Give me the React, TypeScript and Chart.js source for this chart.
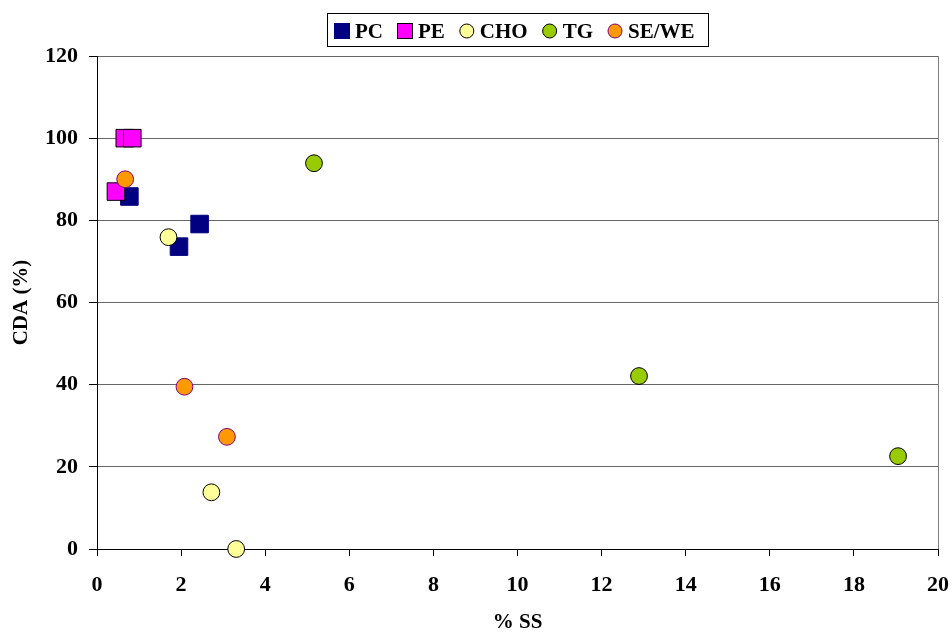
import React, { useEffect, useRef } from 'react';
import { Chart, registerables } from 'chart.js';
Chart.register(...registerables);

// ---- data ----
const seriesNames = ['PC', 'PE', 'CHO', 'TG', 'SE/WE'];
const pcX = [0.77, 2.44, 1.95];
const pcY = [85.8, 79.1, 73.6];
const peX = [0.45, 0.66, 0.84];
const peY = [87.0, 100, 100];
const choX = [1.7, 2.72, 3.31];
const choY = [75.9, 13.8, 0];
const tgX = [5.16, 12.89, 19.05];
const tgY = [93.9, 42.1, 22.6];
const seX = [0.67, 2.08, 3.09];
const seY = [90.0, 39.5, 27.3];
const xMin = 0, xMax = 20, xStep = 2;
const yMin = 0, yMax = 120, yStep = 20;
const xTitle = '% SS';
const yTitle = 'CDA (%)';

const FONT = "'Liberation Serif', 'Times New Roman', serif";

const pts = (xs: number[], ys: number[]) => xs.map((x, i) => ({ x, y: ys[i] }));

const legendBox = {
  id: 'legendBox',
  afterDraw(chart: any) {
    const ctx = chart.ctx;
    const ds = chart.data.datasets;
    ctx.save();
    ctx.font = `bold 21px ${FONT}`;
    const widths = ds.map((d: any) => ctx.measureText(d.label).width);
    const total = 7 + widths.reduce((a: number, w: number) => a + 21 + w, 0) + 14 * (ds.length - 1) + 13;
    const cx = (chart.chartArea.left + chart.chartArea.right) / 2;
    const left = Math.round(cx - total / 2);
    const top = 13, h = 33;
    ctx.fillStyle = '#fff';
    ctx.fillRect(left, top, total, h);
    ctx.strokeStyle = '#000';
    ctx.lineWidth = 1;
    ctx.strokeRect(left + 0.5, top + 0.5, Math.round(total), h);
    let x = left + 7;
    const my = 31;
    ds.forEach((d: any, i: number) => {
      ctx.fillStyle = d.backgroundColor;
      ctx.strokeStyle = d.borderColor;
      ctx.lineWidth = 1;
      if (d.pointStyle === 'rect') {
        ctx.fillRect(x, my - 8, 16, 16);
        ctx.strokeRect(x + 0.5, my - 7.5, 15, 15);
      } else {
        ctx.beginPath();
        ctx.arc(x + 8, my, 7, 0, Math.PI * 2);
        ctx.fill();
        ctx.stroke();
      }
      ctx.fillStyle = '#000';
      ctx.textBaseline = 'alphabetic';
      ctx.textAlign = 'left';
      ctx.fillText(d.label, x + 21, 38);
      x += 21 + widths[i] + 14;
    });
    ctx.restore();
  },
};

const rightBorder = {
  id: 'rightBorder',
  beforeDatasetsDraw(chart: any) {
    const { ctx, chartArea } = chart;
    ctx.save();
    ctx.strokeStyle = '#808080';
    ctx.lineWidth = 1;
    const x = Math.round(chartArea.right) + 0.5;
    ctx.beginPath();
    ctx.moveTo(x, chartArea.top);
    ctx.lineTo(x, chartArea.bottom);
    ctx.stroke();
    ctx.restore();
  },
};

export default function App() {
  const ref = useRef<HTMLCanvasElement>(null);
  useEffect(() => {
    document.body.style.margin = '0';
    const canvas = ref.current!;
    const circle = { pointStyle: 'circle', pointRadius: 8.4, pointHoverRadius: 8.4, pointBorderWidth: 1 };
    const square = { pointStyle: 'rect', pointRadius: 12.4, pointHoverRadius: 12.4, pointBorderWidth: 1 };
    const chart = new Chart(canvas, {
      type: 'scatter',
      data: {
        datasets: [
          { label: seriesNames[0], data: pts(pcX, pcY), backgroundColor: '#000080', borderColor: '#000080', order: 5, ...square },
          { label: seriesNames[1], data: pts(peX, peY), backgroundColor: '#FF00FF', borderColor: '#000000', order: 4, ...square },
          { label: seriesNames[2], data: pts(choX, choY), backgroundColor: '#FFFF99', borderColor: '#000000', order: 3, ...circle },
          { label: seriesNames[3], data: pts(tgX, tgY), backgroundColor: '#99CC00', borderColor: '#000000', order: 2, ...circle },
          { label: seriesNames[4], data: pts(seX, seY), backgroundColor: '#FF9900', borderColor: '#800080', order: 1, ...circle },
        ] as any,
      },
      options: {
        animation: false,
        responsive: false,
        devicePixelRatio: 1,
        layout: { padding: { top: 56, right: 14, left: 0, bottom: 0 } },
        datasets: { scatter: { clip: false } } as any,
        plugins: { legend: { display: false }, tooltip: { enabled: false } },
        scales: {
          x: {
            type: 'linear',
            min: xMin,
            max: xMax,
            afterFit: (s: any) => { s.height = 83; s.paddingRight = 0; s.paddingLeft = 0; },
            ticks: { stepSize: xStep, padding: 16, color: '#000', font: { family: FONT, size: 22, weight: 'bold' } },
            grid: { drawOnChartArea: false, tickLength: 7, tickColor: '#000', color: '#000' },
            border: { color: '#000', width: 1 },
            title: { display: true, text: xTitle, color: '#000', padding: { top: 0, bottom: 0 }, font: { family: FONT, size: 21, weight: 'bold', lineHeight: 0.85 } },
          },
          y: {
            type: 'linear',
            min: yMin,
            max: yMax,
            afterFit: (s: any) => { s.width = 97; },
            ticks: { stepSize: yStep, padding: 11, color: '#000', font: { family: FONT, size: 22, weight: 'bold' } },
            grid: { drawOnChartArea: true, tickLength: 8, tickColor: '#000', color: '#666' },
            border: { color: '#000', width: 1 },
            title: { display: true, text: yTitle, color: '#000', padding: { top: 9, bottom: 0 }, font: { family: FONT, size: 21, weight: 'bold' } },
          },
        },
      } as any,
      plugins: [legendBox, rightBorder],
    });
    return () => chart.destroy();
  }, []);
  return (
    <div style={{ width: 952, height: 632 }}>
      <canvas ref={ref} width={952} height={632} style={{ display: 'block' }} />
    </div>
  );
}
